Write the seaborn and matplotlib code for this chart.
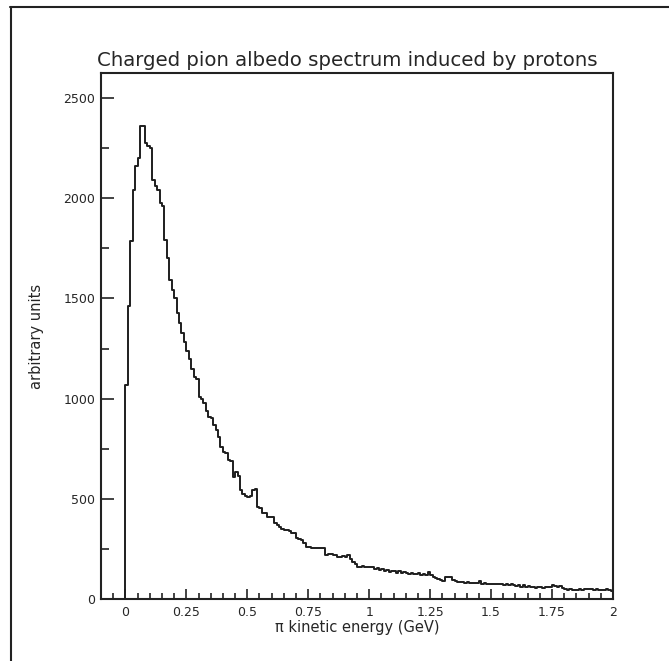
import matplotlib
matplotlib.use('Agg')
import numpy as np
import pandas as pd
import matplotlib.pyplot as plt
import seaborn as sns
from matplotlib.lines import Line2D
from matplotlib.ticker import MultipleLocator, FixedLocator, FixedFormatter

# pion kinetic energy histogram, 0.01 GeV bins;
# first bin [-0.01, 0) is empty so the step closes down to zero at 0
bin_lo = -0.01
bin_hi = 2.0
counts = [
    0,
    1070, 1460, 1785, 2040, 2160, 2200, 2360, 2360, 2275, 2260,
    2250, 2090, 2060, 2040, 1975, 1963, 1790, 1700, 1592, 1542,
    1500, 1427, 1377, 1327, 1283, 1240, 1200, 1150, 1109, 1100,
    1010, 1000, 978, 940, 910, 905, 870, 843, 808, 760,
    735, 728, 694, 690, 610, 635, 612, 544, 524, 515,
    509, 512, 544, 550, 460, 455, 430, 427, 411, 411,
    408, 379, 368, 359, 350, 344, 344, 340, 330, 329,
    304, 300, 294, 280, 262, 258, 253, 253, 253, 255,
    253, 255, 220, 225, 225, 222, 218, 211, 211, 215,
    211, 220, 200, 186, 175, 161, 161, 165, 161, 160,
    161, 158, 150, 155, 145, 150, 140, 146, 135, 142,
    138, 132, 140, 128, 135, 130, 125, 132, 127, 124,
    128, 122, 126, 120, 136, 118, 110, 105, 100, 95,
    92, 111, 110, 108, 95, 88, 86, 84, 87, 82,
    83, 80, 79, 81, 78, 88, 76, 78, 77, 75,
    76, 74, 75, 73, 76, 72, 74, 70, 73, 68,
    66, 70, 62, 68, 60, 64, 58, 62, 57, 60,
    58, 56, 60, 62, 58, 68, 66, 62, 66, 56,
    52, 46, 48, 45, 47, 44, 50, 46, 48, 52,
    50, 48, 45, 52, 47, 44, 46, 50, 45, 42,
]
x_ticks = [0, 0.25, 0.5, 0.75, 1, 1.25, 1.5, 1.75, 2]
x_ticklabels = ["0", "0.25", "0.5", "0.75", "1", "1.25", "1.5", "1.75", "2"]
y_ticks = [0, 500, 1000, 1500, 2000, 2500]

title = "Charged pion albedo spectrum induced by protons"
xlabel = "\u03c0 kinetic energy (GeV)"
ylabel = "arbitrary units"

nbins = len(counts)
binw = (bin_hi - bin_lo) / nbins
df = pd.DataFrame({"energy": bin_lo + binw * (np.arange(nbins) + 0.5),
                   "n": counts})

sns.set_style("white")
plt.rcParams['font.family'] = ['DejaVu Sans']
plt.rcParams['xtick.direction'] = 'in'
plt.rcParams['ytick.direction'] = 'in'

fig = plt.figure(figsize=(6.69, 6.61), dpi=100)
ax = fig.add_axes([101 / 669, 62 / 661, 512 / 669, 526 / 661])

sns.histplot(data=df, x="energy", weights="n", binwidth=binw, binrange=(bin_lo, bin_hi),
             element="step", fill=False, color="#1e1e1e", linewidth=1.4, ax=ax)

ax.set_xlim(-0.1, 2.0)
ax.set_ylim(0, 2625)

ax.xaxis.set_major_locator(FixedLocator(x_ticks))
ax.xaxis.set_major_formatter(FixedFormatter(x_ticklabels))
ax.xaxis.set_minor_locator(MultipleLocator(0.05))
ax.yaxis.set_major_locator(FixedLocator(y_ticks))
ax.yaxis.set_minor_locator(MultipleLocator(250))

ax.tick_params(axis='x', which='both', direction='in', bottom=True, top=False,
               labelsize=9, pad=5, color="#222222", width=1.2)
ax.tick_params(axis='y', which='both', direction='in', left=True, right=False,
               labelsize=9, pad=4, color="#222222", width=1.2)
ax.tick_params(axis='x', which='major', length=7)
ax.tick_params(axis='x', which='minor', length=4)
ax.tick_params(axis='y', which='major', length=9)
ax.tick_params(axis='y', which='minor', length=6)

for s in ax.spines.values():
    s.set_visible(True)
    s.set_color("#222222")
    s.set_linewidth(1.5)

ax.set_xlabel(xlabel, fontsize=10.5)
ax.set_ylabel(ylabel, fontsize=10.5)
ax.xaxis.set_label_coords(0.5, -0.040)
ax.yaxis.set_label_coords(-0.112, 0.5)

fig.text(347 / 669, 1 - 60 / 661, title, ha='center', va='center', fontsize=14.2)

# outer frame (top and left edge)
fig.add_artist(Line2D([10 / 669, 1.0], [1 - 7 / 661, 1 - 7 / 661], color="#222222", lw=1.5))
fig.add_artist(Line2D([11 / 669, 11 / 669], [0.0, 1 - 7 / 661], color="#222222", lw=1.5))

fig.savefig("out.png", dpi=100)
